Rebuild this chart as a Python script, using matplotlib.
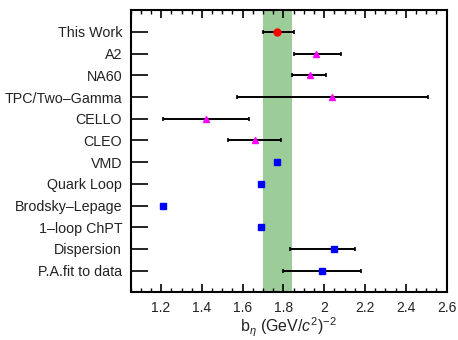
import numpy as np
import matplotlib.pyplot as plt
from matplotlib.ticker import MultipleLocator

plt.rcParams['font.family'] = ['Liberation Sans', 'DejaVu Sans']
plt.rcParams['mathtext.fontset'] = 'custom'
plt.rcParams['mathtext.rm'] = 'Liberation Sans'
plt.rcParams['mathtext.it'] = 'Liberation Sans:italic'

labels = ['This Work', 'A2', 'NA60', 'TPC/Two\u2013Gamma', 'CELLO', 'CLEO', 'VMD',
          'Quark Loop', 'Brodsky\u2013Lepage', '1\u2013loop ChPT', 'Dispersion',
          'P.A.fit to data']
values = [1.77, 1.96, 1.93, 2.04, 1.42, 1.66, 1.77, 1.69, 1.21, 1.69, 2.05, 1.99]
err_lo = [0.07, 0.11, 0.09, 0.47, 0.21, 0.13, 0, 0, 0, 0, 0.22, 0.19]
err_hi = [0.08, 0.12, 0.08, 0.47, 0.21, 0.13, 0, 0, 0, 0, 0.10, 0.19]
kinds = ['circle', 'tri', 'tri', 'tri', 'tri', 'tri', 'sq', 'sq', 'sq', 'sq', 'sq', 'sq']
band = (1.70, 1.84)

styles = {'circle': dict(marker='o', color='red', ms=5),
          'tri': dict(marker='^', color='magenta', ms=5),
          'sq': dict(marker='s', color='blue', ms=4)}

fig, ax = plt.subplots(figsize=(4.58, 3.4), dpi=100)
fig.subplots_adjust(left=0.285, right=0.975, top=0.97, bottom=0.14)

ax.axvspan(band[0], band[1], color='#9ccc98', zorder=0, lw=0)

n = len(labels)
ypos = np.arange(n, 0, -1)
for y, v, lo, hi, k in zip(ypos, values, err_lo, err_hi, kinds):
    if lo > 0 or hi > 0:
        ax.errorbar(v, y, xerr=[[lo], [hi]], fmt='none', ecolor='black',
                    elinewidth=1.4, capsize=1.5, capthick=1.2, zorder=2)
    st = styles[k]
    ax.plot(v, y, ls='none', marker=st['marker'], color=st['color'],
            ms=st['ms'], mec=st['color'], zorder=3)

ax.set_xlim(1.05, 2.6)
ax.set_ylim(0, n + 1)
ax.set_yticks(ypos)
ax.set_yticklabels(labels, fontsize=10.3, color='#222222')
ax.xaxis.set_minor_locator(MultipleLocator(0.05))
ax.set_xticks(np.arange(1.2, 2.61, 0.2))
ax.set_xticklabels(['1.2', '1.4', '1.6', '1.8', '2', '2.2', '2.4', '2.6'],
                   fontsize=10, color='#222222')
ax.tick_params(axis='x', which='major', direction='in', top=True, length=6, width=1.2, pad=6)
ax.tick_params(axis='x', which='minor', direction='in', top=True, length=3, width=1.0)
ax.tick_params(axis='y', which='major', direction='in', right=False, length=12, width=1.2, pad=6)
ax.tick_params(axis='y', which='minor', left=False)
for s in ax.spines.values():
    s.set_linewidth(1.5)

ax.set_xlabel(r'b$_{\eta}$ (GeV/$c^2$)$^{-2}$', fontsize=11.5, labelpad=1, color='#222222')

fig.savefig('out.png', dpi=100)
